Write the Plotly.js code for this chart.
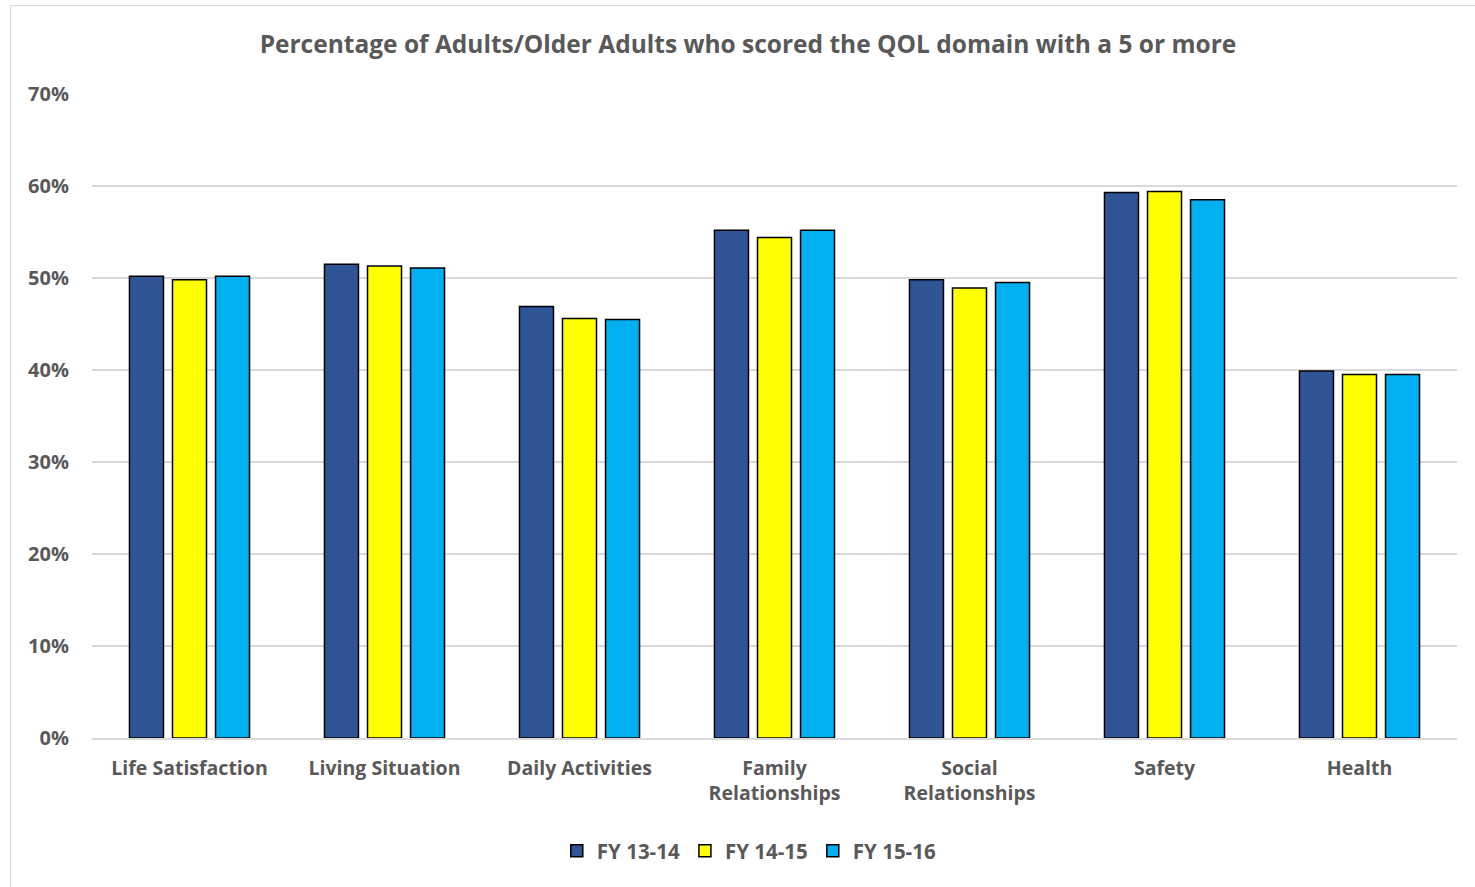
<!DOCTYPE html>
<html>
<head>
<meta charset="utf-8">
<script src="https://cdn.plot.ly/plotly-3.0.1.min.js"></script>
<style>
  html, body { margin: 0; padding: 0; background: #ffffff; overflow: hidden; }
  #frame { position: absolute; left: 10px; top: 5px; width: 1477px; height: 900px; border: 1.5px solid #d9d9d9; box-sizing: border-box; }
  #chart { position: absolute; left: 0; top: 0; width: 1475px; height: 887px; }
</style>
</head>
<body>
<div id="frame"></div>
<div id="chart"></div>
<script>
const categories = ["Life Satisfaction", "Living Situation", "Daily Activities", "Family<br>Relationships", "Social<br>Relationships", "Safety", "Health"];
const seriesNames = ["FY 13-14", "FY 14-15", "FY 15-16"];
const fy1314 = [50.2, 51.5, 46.9, 55.2, 49.8, 59.3, 39.9];
const fy1415 = [49.8, 51.3, 45.6, 54.4, 48.9, 59.4, 39.5];
const fy1516 = [50.2, 51.1, 45.5, 55.2, 49.5, 58.5, 39.5];
const colors = ["#2F5597", "#FFFF00", "#00B0F0"];
const yTicks = [0, 10, 20, 30, 40, 50, 60, 70];

const font = "'Open Sans', sans-serif";
const grey = "#595959";

const traces = [fy1314, fy1415, fy1516].map((vals, i) => ({
  type: "bar",
  name: seriesNames[i],
  x: categories,
  y: vals,
  marker: { color: colors[i], line: { color: "#000000", width: 1.5 } },
  hoverinfo: "x+y"
}));

const layout = {
  width: 1475,
  height: 887,
  paper_bgcolor: "rgba(0,0,0,0)",
  plot_bgcolor: "#ffffff",
  margin: { l: 92, r: 18, t: 94, b: 149 },
  barmode: "group",
  bargap: 0.338,
  bargroupgap: 0.21,
  title: {
    text: "Percentage of Adults/Older Adults who scored the QOL domain with a 5 or more",
    font: { family: font, size: 24.5, color: grey, weight: 700 },
    x: 0.5071, xref: "container", xanchor: "center",
    y: 1 - 44 / 887, yref: "container", yanchor: "middle"
  },
  xaxis: {
    type: "category",
    tickfont: { family: font, size: 19.5, color: grey, weight: 700 },
    ticks: "outside", ticklen: 12, tickcolor: "rgba(0,0,0,0)",
    showline: true, linecolor: "#d9d9d9", linewidth: 1.5,
    showgrid: false, fixedrange: true
  },
  yaxis: {
    range: [0, 70],
    tickvals: yTicks,
    ticktext: yTicks.map(v => v + "%"),
    tickfont: { family: font, size: 20, color: grey, weight: 700 },
    ticks: "outside", ticklen: 18, tickcolor: "rgba(0,0,0,0)",
    showgrid: true, gridcolor: "#d9d9d9", gridwidth: 1.5,
    zeroline: false, showline: false, fixedrange: true
  },
  legend: {
    orientation: "h",
    x: 0.508, xref: "container", xanchor: "center",
    y: 1 - 851 / 887, yref: "container", yanchor: "middle",
    font: { family: font, size: 20.5, color: grey, weight: 700 },
    itemwidth: 30,
    traceorder: "normal"
  },
  showlegend: true
};

Plotly.newPlot("chart", traces, layout, { displayModeBar: false, staticPlot: true });
</script>
</body>
</html>
